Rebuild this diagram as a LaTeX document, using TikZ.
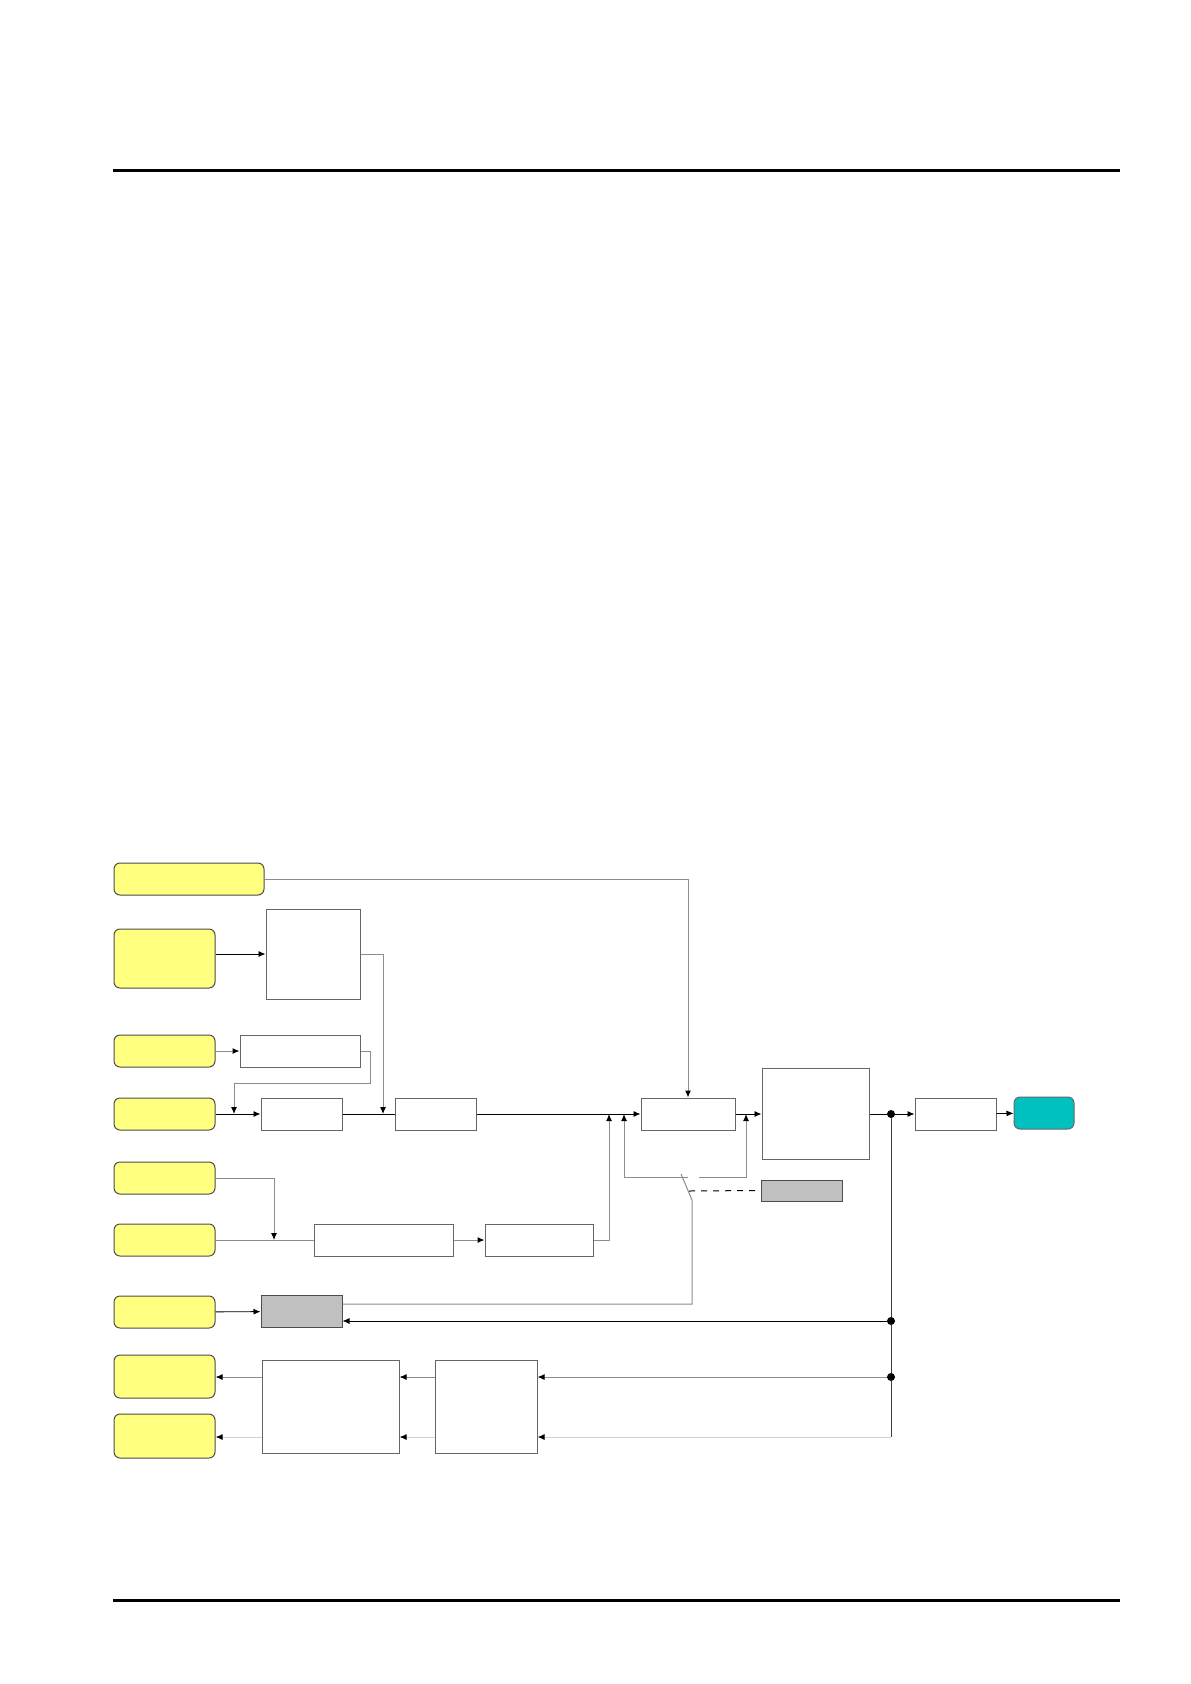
\documentclass[tikz,border=0pt]{standalone}
\usepackage{tikz}
\usetikzlibrary{arrows.meta,positioning,calc}

\definecolor{padyellow}{RGB}{255,255,128}
\definecolor{outteal}{RGB}{0,192,192}
\definecolor{blockgray}{RGB}{192,192,192}

\begin{document}
\begin{tikzpicture}[
    x=0.5pt, y=-0.5pt,
    signal/.style={draw=black!70, fill=padyellow, rounded corners=3pt, line width=0.5pt, minimum width=50.5pt, minimum height=16pt, inner sep=0pt},
    block/.style={draw=black!60, fill=white, line width=0.5pt, minimum height=16pt, inner sep=0pt},
    shaded/.style={block, fill=blockgray, draw=black!70},
    wire/.style={line width=0.5pt, black!45},
    faintwire/.style={line width=0.5pt, black!18},
    mainwire/.style={line width=0.45pt, black},
    busline/.style={line width=0.45pt, black!75},
    junction/.style={circle, fill=black, inner sep=0pt, minimum size=4pt},
    >={Latex[length=3.5pt,width=3pt,color=black]}
]
    \useasboundingbox (0,0) rectangle (1190,1684);

    % page rules
    \draw[line width=1.5pt] (113,171) -- (1120,171);
    \draw[line width=1.5pt] (113,1600) -- (1120,1600);

    % Input pads
    \node[signal, minimum width=75pt] (mode) at (189,879) {};
    \node[signal, minimum height=29.5pt] (ref) at (164.5,958.5) {};
    \node[signal] (trim) at (164.5,1051) {};
    \node[signal] (feed) at (164.5,1114) {};
    \node[signal] (aux) at (164.5,1178) {};
    \node[signal] (sense) at (164.5,1240) {};
    \node[signal] (enable) at (164.5,1312) {};
    \node[signal, minimum height=21.5pt] (mon1) at (164.5,1376.5) {};
    \node[signal, minimum height=22pt] (mon2) at (164.5,1436) {};

    % Blocks
    \node[block, minimum width=47pt, minimum height=45pt] (boxA) at (313,954) {};
    \node[block, minimum width=60pt] (boxB) at (300,1051) {};
    \node[block, minimum width=40.5pt] (boxC) at (301.5,1114) {};
    \node[block, minimum width=40.5pt] (boxD) at (435.5,1114) {};
    \node[block, minimum width=47pt] (boxE) at (688,1114) {};
    \node[block, minimum width=53.5pt, minimum height=45.5pt] (boxF) at (815.5,1114) {};
    \node[block, minimum width=40.5pt] (boxK) at (955.5,1114) {};
    \node[signal, fill=outteal, draw=black!60, minimum width=30pt] (out) at (1044,1113) {};
    \node[shaded, minimum width=40.5pt, minimum height=10.5pt] (gateB) at (801.5,1190.5) {};
    \node[block, minimum width=69.5pt] (boxI) at (383.5,1240) {};
    \node[block, minimum width=54pt] (boxJ) at (539,1240) {};
    \node[shaded, minimum width=40.5pt] (gateA) at (301.5,1311.5) {};
    \node[block, minimum width=68.5pt, minimum height=46.5pt] (boxL) at (330.5,1406.5) {};
    \node[block, minimum width=51pt, minimum height=46.5pt] (boxM) at (486,1406.5) {};

    % Junctions and taps
    \node[junction] (j1) at (891,1114) {};
    \node[junction] (j2) at (891,1321) {};
    \node[junction] (j3) at (891,1377) {};
    \coordinate (c4) at (891,1437);
    \coordinate (tapA) at (383,1114);
    \coordinate (tapB) at (234,1114);
    \coordinate (bendB) at (370,1083);
    \coordinate (tapC) at (274,1240);
    \coordinate (tapD) at (609,1114);
    \coordinate (tapE) at (624,1114);
    \coordinate (tapF) at (746,1114);
    \coordinate (swL) at (688,1177);
    \coordinate (swR) at (699,1177);
    \coordinate (swTop) at (681,1174);
    \coordinate (swPivot) at (692,1200);
    \coordinate (swLow) at (692,1304);
    \coordinate (swDash) at (689,1191);

    % Upper paths
    \draw[wire,->] (mode) -| (boxE);
    \draw[mainwire,->] (ref.east |- boxA) -- (boxA);
    \draw[wire,->] (boxA.east) -| (tapA);
    \draw[wire,->] (trim) -- (boxB);
    \draw[wire,->] (boxB.east) -| (bendB) -| (tapB);

    % Main line
    \draw[mainwire,->] (feed) -- (boxC);
    \draw[mainwire] (boxC) -- (boxD);
    \draw[mainwire,->] (boxD) -- (boxE);
    \draw[mainwire,->] (boxE) -- (boxF.west |- boxE);
    \draw[mainwire] (boxF.east |- j1) -- (j1);
    \draw[mainwire,->] (j1) -- (boxK);
    \draw[mainwire,->] (boxK) -- (out);

    % Lower paths
    \draw[wire,->] (aux) -| (tapC);
    \draw[wire] (sense) -- (boxI);
    \draw[wire,->] (boxI) -- (boxJ);
    \draw[wire,->] (boxJ) -| (tapD);

    % Switch
    \draw[wire,->] (swL) -| (tapE);
    \draw[wire,->] (swR) -| (tapF);
    \draw[wire] (swTop) -- (swPivot) -- (swLow) -- (swLow -| gateA.east);
    \draw[dashed, line width=0.5pt] (swDash) -- (gateB.west);

    % Feedback
    \draw[mainwire,->] (enable) -- (gateA);
    \draw[mainwire,->] (j2) -- (j2 -| gateA.east);
    \draw[busline] (j1) -- (j2) -- (j3) -- (c4);
    \draw[wire,->] (j3) -- (j3 -| boxM.east);
    \draw[wire,->] (j3 -| boxM.west) -- (j3 -| boxL.east);
    \draw[wire,->] (j3 -| boxL.west) -- (j3 -| mon1.east);
    \draw[faintwire,->] (c4) -- (c4 -| boxM.east);
    \draw[faintwire,->] (c4 -| boxM.west) -- (c4 -| boxL.east);
    \draw[faintwire,->] (c4 -| boxL.west) -- (c4 -| mon2.east);
\end{tikzpicture}
\end{document}
